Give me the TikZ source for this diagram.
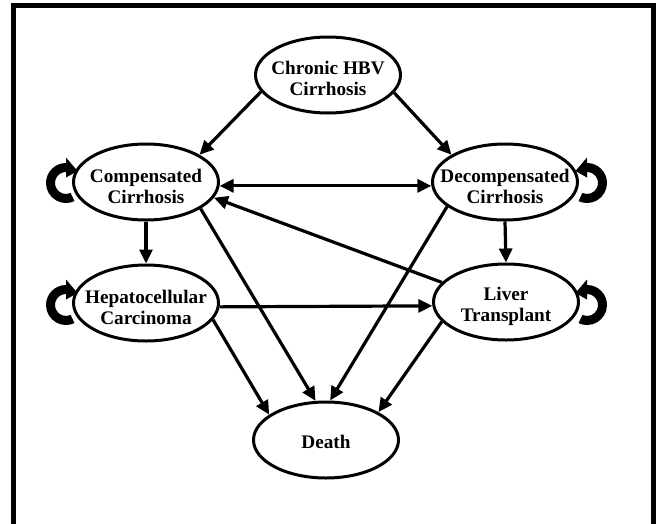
\documentclass[tikz,border=0pt]{standalone}
\usepackage{fontspec}
\setmainfont{Liberation Serif}
\usetikzlibrary{shapes.geometric,arrows.meta}
\tikzset{
  state/.style={ellipse, draw, line width=3pt, minimum width=145pt, minimum height=76pt,
    inner sep=0pt, fill=white},
  txt/.style={inner sep=0pt, align=center, font=\bfseries\fontsize{19.2}{21}\selectfont},
  conn/.style={line width=3.2pt, -{Triangle[length=14pt,width=13pt]}},
  loopshape/.pic={
    \fill (0,20) arc[start angle=90, end angle=295, radius=20]
      -- (295:11) arc[start angle=295, end angle=90, radius=11] -- cycle;
    \fill (0,25.5) -- (11.5,12) -- (0,5.5) -- cycle;
  }
}
\begin{document}
\begin{tikzpicture}[x=1pt,y=1pt]
\useasboundingbox (0,0) rectangle (656,-523);
\clip (0,0) rectangle (656,-523);
\draw[line width=5pt] (13.5,-5.5) rectangle (653,-540);
\node[state] (chronic) at (328,-75) {};
\node[state] (comp) at (146,-182) {};
\node[state] (decomp) at (505,-182) {};
\node[state] (hep) at (146,-303) {};
\node[state] (liver) at (506,-302) {};
\node[state] (death) at (326,-440) {};
\node[txt] (chronic-t) at ([yshift=-3pt]chronic.center) {Chronic HBV\\Cirrhosis};
\node[txt] (comp-t) at ([yshift=-4pt]comp.center) {Compensated\\Cirrhosis};
\node[txt] (decomp-t) at ([yshift=-4pt]decomp.center) {Decompensated\\Cirrhosis};
\node[txt] (hep-t) at ([yshift=-4pt]hep.center) {Hepatocellular\\Carcinoma};
\node[txt] (liver-t) at ([yshift=-4pt]liver.center) {Liver\\Transplant};
\node[txt] (death-t) at ([yshift=-2pt]death.center) {Death};
\draw[conn] (chronic.194) -- (comp.27);
\draw[conn] (chronic.-15) -- (decomp.153);
\draw[conn, {Triangle[length=14pt,width=13pt]}-{Triangle[length=14pt,width=13pt]}] (comp.-3) -- (decomp.183);
\draw[conn] (liver.163) -- (comp.-13);
\draw[conn] (comp.south) -- (hep.north);
\draw[conn] (decomp.south) -- (liver.north);
\draw[conn] (hep.-3) -- (liver.183);
\draw[conn] (comp.-26) -- (death.105);
\draw[conn] (decomp.-157) -- (death.84);
\draw[conn] (hep.-14) -- (death.156);
\draw[conn] (liver.197) -- (death.28);
\pic at (66,-183) {loopshape};
\pic at (66,-305) {loopshape};
\pic[xscale=-1] at (587,-183) {loopshape};
\pic[xscale=-1] at (587,-305) {loopshape};
\end{tikzpicture}
\end{document}
